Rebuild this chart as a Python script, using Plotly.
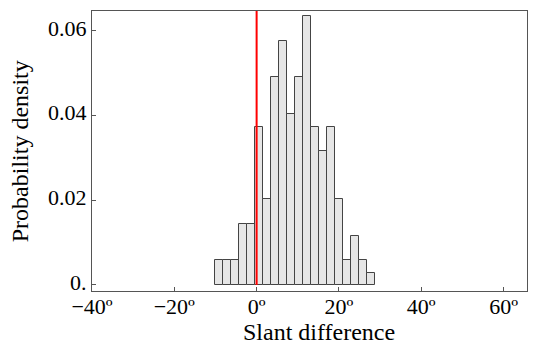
import plotly.graph_objects as go

# Histogram data
bin_start = -10.07
bin_width = 1.94
densities = [0.0059, 0.0059, 0.0059, 0.0144, 0.0144, 0.0374, 0.0202, 0.0490,
             0.0577, 0.0404, 0.0490, 0.0635, 0.0374, 0.0317, 0.0374, 0.0202,
             0.0059, 0.0116, 0.0059, 0.0029]
x_tick_vals = [-40, -20, 0, 20, 40, 60]
x_tick_text = ["−40º", "−20º", "0º", "20º", "40º", "60º"]
y_tick_vals = [0, 0.02, 0.04, 0.06]
y_tick_text = ["0.", "0.02", "0.04", "0.06"]
x_range = [-40, 65.7]
y_range = [-0.00142, 0.0647]
ref_line_x = 0
x_title = "Slant difference"
y_title = "Probability density"

centers = [bin_start + bin_width * (i + 0.5) for i in range(len(densities))]

fig = go.Figure()
fig.add_trace(go.Bar(
    x=centers, y=densities, width=bin_width,
    marker=dict(color="#e6e6e6", line=dict(color="#444444", width=1)),
    showlegend=False,
))
fig.add_shape(type="line", xref="x", yref="y",
              x0=ref_line_x, x1=ref_line_x, y0=0, y1=y_range[1],
              line=dict(color="#ff0000", width=2))

tick_font = dict(family="Liberation Serif", size=22, color="#000000")
title_font = dict(family="Liberation Serif", size=24, color="#000000")

fig.add_annotation(text=x_title, xref="paper", yref="paper",
                   x=0.522, y=-0.145, xanchor="center", yanchor="middle",
                   showarrow=False, font=title_font)
fig.add_annotation(text=y_title, xref="paper", yref="paper",
                   x=-0.165, y=0.5, xanchor="center", yanchor="middle",
                   textangle=-90, showarrow=False, font=title_font)

fig.update_layout(
    width=534, height=349,
    margin=dict(l=92, r=7, t=11, b=58),
    plot_bgcolor="white", paper_bgcolor="white",
    font=tick_font, bargap=0,
    xaxis=dict(range=x_range, tickvals=x_tick_vals, ticktext=x_tick_text,
               ticks="inside", ticklen=4, tickcolor="#555555",
               ticklabelstandoff=-4, tickfont=tick_font,
               showline=True, linecolor="#555555", linewidth=1, mirror=True,
               showgrid=False, zeroline=False),
    yaxis=dict(range=y_range, tickvals=y_tick_vals, ticktext=y_tick_text,
               ticks="inside", ticklen=4, tickcolor="#555555",
               ticklabelshift=-3, tickfont=tick_font,
               showline=True, linecolor="#555555", linewidth=1, mirror=True,
               showgrid=False, zeroline=False),
)
fig.write_html("out.html")
